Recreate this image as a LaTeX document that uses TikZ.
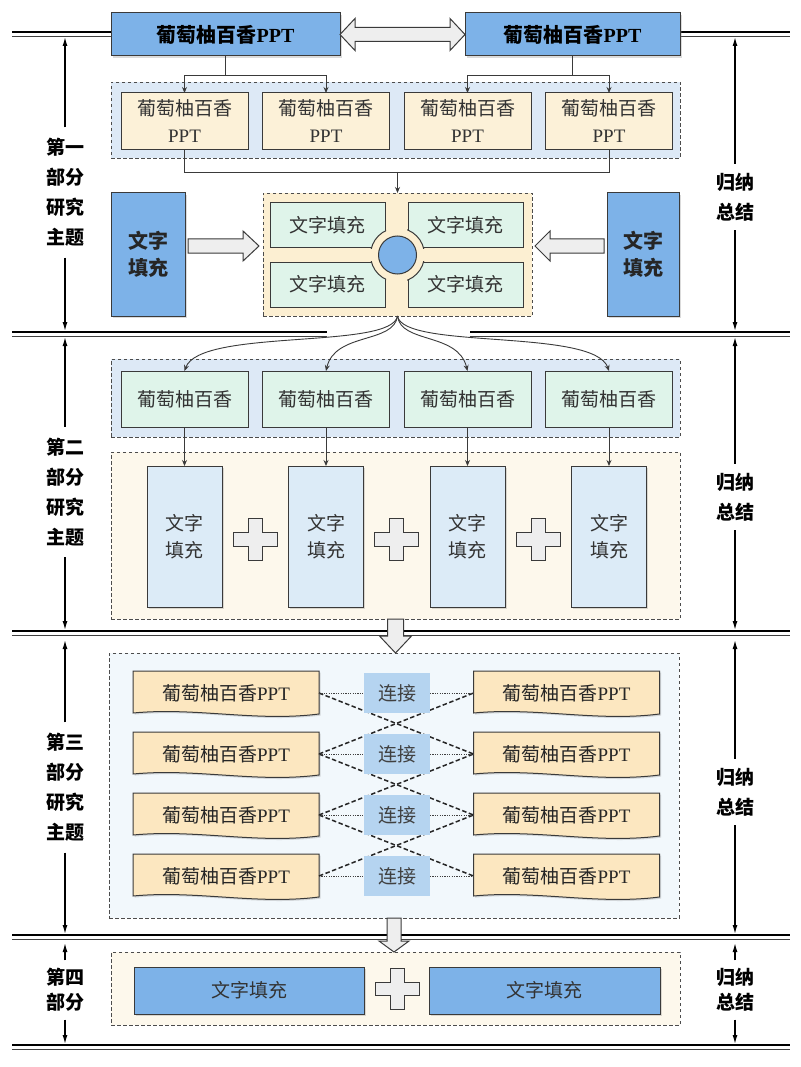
\documentclass[tikz,border=0pt]{standalone}
\usepackage{fontspec}
\setmainfont{Noto Sans CJK SC}
\newfontfamily\lat{Liberation Serif}
\usetikzlibrary{shadows,arrows.meta}
\definecolor{bdr}{HTML}{3A3A3A}
\definecolor{blueA}{HTML}{7DB2E8}
\definecolor{grpblue}{HTML}{DDE9F6}
\definecolor{creamA}{HTML}{FCF1D8}
\definecolor{hubcream}{HTML}{FCEFD2}
\definecolor{mint}{HTML}{DFF4EA}
\definecolor{creamB}{HTML}{FDF8EC}
\definecolor{paleblue}{HTML}{DCEBF7}
\definecolor{bgthree}{HTML}{F2F8FC}
\definecolor{tanfill}{HTML}{FCE7C0}
\definecolor{linkblue}{HTML}{B5D4F0}
\definecolor{greyfill}{HTML}{EEEEEE}
\definecolor{txt}{HTML}{333333}
\tikzset{plussign/.pic={\draw[blockarr] (-7,21) -- (7,21) -- (7,7) -- (22,7) -- (22,-7) -- (7,-7) -- (7,-21) -- (-7,-21) -- (-7,-7) -- (-22,-7) -- (-22,7) -- (-7,7) -- cycle;}}
\newcommand\docbox[3]{%
  \path[docshape] (#2-93,-#3) -- (#2+93,-#3) -- (#2+93,-#3-43) .. controls (#2+30,-#3-51) and (#2-30,-#3-36) .. (#2-93,-#3-42) -- cycle;
  \node[doctext] (#1) at (#2,-#3-22) {葡萄柚百香{\lat PPT}};}
\begin{document}
\begin{tikzpicture}[x=1pt,y=1pt,
  every node/.style={inner sep=0pt,outer sep=0pt,text=txt},
  shadowed/.style={drop shadow={opacity=0.28,shadow xshift=1.6pt,shadow yshift=-1.6pt}},
  bx/.style={draw=bdr,line width=1pt,align=center},
  topbox/.style={bx,shadowed,fill=blueA,minimum height=43,text=black,font=\fontsize{20}{24}\selectfont\bfseries},
  smallbox/.style={bx,fill=creamA,minimum width=127,minimum height=57,font=\fontsize{19}{27}\selectfont},
  grpdash/.style={draw=black!70,line width=0.9pt,dash pattern=on 3.5pt off 2.5pt},
  sidebox/.style={bx,shadowed,fill=blueA,minimum width=74,minimum height=123,text=black!85,font=\fontsize{20}{27}\selectfont\bfseries},
  greenbox/.style={bx,fill=mint,minimum width=115,minimum height=45,font=\fontsize{19}{24}\selectfont},
  gbox/.style={bx,fill=mint,minimum width=127,minimum height=56,font=\fontsize{19}{24}\selectfont},
  tallbox/.style={bx,shadowed,fill=paleblue,minimum width=75,minimum height=141,font=\fontsize{19}{27}\selectfont},
  docshape/.style={fill=tanfill,draw=bdr,line width=1pt,shadowed},
  doctext/.style={minimum width=186,minimum height=44,font=\fontsize{19}{24}\selectfont,text=black!85},
  linkbox/.style={fill=linkblue,minimum width=66,minimum height=40,font=\fontsize{19}{24}\selectfont,text=black!75},
  qbox/.style={bx,shadowed,fill=blueA,minimum height=47,font=\fontsize{19}{24}\selectfont},
  blockarr/.style={fill=greyfill,draw=bdr,line width=1pt,line join=miter},
  arr/.style={draw=bdr,line width=0.9pt,-{Stealth[length=6pt,width=5pt]}},
  conn/.style={draw=bdr,line width=0.9pt},
  sarr/.style={line width=1.3pt,-{Latex[length=9pt,width=5pt]}},
  sidelab/.style={align=center,text=black,font=\fontsize{19}{30}\selectfont\bfseries,inner ysep=11pt},
  rightlab/.style={align=center,text=black,font=\fontsize{19}{30}\selectfont\bfseries,inner ysep=9pt},
  shortlab/.style={align=center,text=black,font=\fontsize{19}{25}\selectfont\bfseries,inner ysep=8pt},
  sepa/.style={line width=1.8pt,black},
  sepb/.style={line width=0.8pt,black!75},
  crossdash/.style={draw=black!85,line width=1.5pt,dash pattern=on 4.5pt off 2.5pt},
  dotl/.style={draw=black!75,line width=0.9pt,dash pattern=on 1.2pt off 1.2pt}
]
\useasboundingbox (0,0) rectangle (800,-1067);
\fill[white] (0,0) rectangle (800,-1067);

% ---------- separator lines ----------
\draw[sepa] (12,-32) -- (111,-32);  \draw[sepb] (12,-36) -- (111,-36);
\draw[sepa] (680,-32) -- (790,-32); \draw[sepb] (680,-36) -- (790,-36);
\draw[sepa] (12,-332) -- (327,-332); \draw[sepb] (12,-336) -- (327,-336);
\draw[sepa] (470,-332) -- (790,-332); \draw[sepb] (470,-336) -- (790,-336);
\draw[sepa] (12,-631) -- (790,-631); \draw[sepb] (12,-635) -- (790,-635);
\draw[sepa] (12,-935) -- (790,-935); \draw[sepb] (12,-939) -- (790,-939);
\draw[sepa] (12,-1045) -- (790,-1045); \draw[sepb] (12,-1049) -- (790,-1049);

% ---------- section 1 ----------
\node[topbox,minimum width=229] (A) at (225.5,-34.5) {葡萄柚百香{\lat PPT}};
\node[topbox,minimum width=215] (B) at (572.5,-34.5) {葡萄柚百香{\lat PPT}};
\draw[blockarr] (A.east) -- ++(15,16) -- ++(0,-9) -- ++(95,0) -- ++(0,9) -- ++(15,-16) -- ++(-15,-16) -- ++(0,9) -- ++(-95,0) -- ++(0,-9) -- cycle;

\node[grpdash,fill=grpblue,minimum width=569,minimum height=76] (G1) at (395.5,-120) {};
\node[smallbox] (s1) at (184.5,-121.5) {葡萄柚百香\\{\lat PPT}};
\node[smallbox] (s2) at (326,-121.5) {葡萄柚百香\\{\lat PPT}};
\node[smallbox] (s3) at (467.5,-121.5) {葡萄柚百香\\{\lat PPT}};
\node[smallbox] (s4) at (609,-121.5) {葡萄柚百香\\{\lat PPT}};
\draw[arr] (A.south) -- ++(0,-19) -| (s1.north);
\draw[arr] (A.south) -- ++(0,-19) -| (s2.north);
\draw[arr] (B.south) -- ++(0,-19) -| (s3.north);
\draw[arr] (B.south) -- ++(0,-19) -| (s4.north);

\node[grpdash,fill=hubcream,minimum width=269,minimum height=123] (H) at (397.5,-254.5) {};
\coordinate (j1) at (397.5,-172);
\draw[conn] (s1.south) -- (s1.south |- j1) -- (s4.south |- j1) -- (s4.south);
\draw[arr] (j1) -- (H.north);

\coordinate (hubc) at (397.5,-255);
\node[greenbox] (h1) at (327.5,-225) {文字填充};
\node[greenbox] (h2) at (465.5,-225) {文字填充};
\node[greenbox] (h3) at (327.5,-284.5) {文字填充};
\node[greenbox] (h4) at (465.5,-284.5) {文字填充};
\foreach \h in {h1,h2,h3,h4}{
  \begin{scope}
    \clip ([shift={(-1,-1)}]\h.south west) rectangle ([shift={(1,1)}]\h.north east);
    \draw[fill=hubcream,draw=bdr,line width=1pt] (hubc) circle (27);
  \end{scope}
}
\node[circle,fill=blueA,draw=bdr,line width=1pt,minimum size=38] (hc) at (hubc) {};

\node[sidebox] (lb) at (148,-254.5) {文字\\填充};
\node[sidebox,minimum width=72] (rb) at (643,-254.5) {文字\\填充};
\draw[blockarr] (188,-239) -- (243,-239) -- (243,-231) -- (259,-246) -- (243,-261) -- (243,-253) -- (188,-253) -- cycle;
\draw[blockarr] (604,-239) -- (550,-239) -- (550,-231) -- (535,-246) -- (550,-261) -- (550,-253) -- (604,-253) -- cycle;

% ---------- section 2 ----------
\node[grpdash,fill=grpblue,minimum width=569,minimum height=78] (G2) at (395.5,-398) {};
\node[gbox] (g1) at (184.5,-399) {葡萄柚百香};
\node[gbox] (g2) at (326,-399) {葡萄柚百香};
\node[gbox] (g3) at (467.5,-399) {葡萄柚百香};
\node[gbox] (g4) at (609,-399) {葡萄柚百香};
\draw[arr] (H.south) .. controls (392,-350) and (200,-328) .. (g1.north);
\draw[arr] (H.south) .. controls (394,-344) and (335,-332) .. (g2.north);
\draw[arr] (H.south) .. controls (401,-344) and (458,-332) .. (g3.north);
\draw[arr] (H.south) .. controls (403,-350) and (594,-328) .. (g4.north);

\node[grpdash,fill=creamB,minimum width=569,minimum height=167] (D2) at (395.5,-535.5) {};
\node[tallbox] (t1) at (184.5,-536.5) {文字\\填充};
\node[tallbox] (t2) at (326,-536.5) {文字\\填充};
\node[tallbox] (t3) at (467.5,-536.5) {文字\\填充};
\node[tallbox] (t4) at (609,-536.5) {文字\\填充};
\draw[arr] (g1.south) -- (t1.north);
\draw[arr] (g2.south) -- (t2.north);
\draw[arr] (g3.south) -- (t3.north);
\draw[arr] (g4.south) -- (t4.north);
\pic at (255.25,-539) {plussign};
\pic at (396.75,-539) {plussign};
\pic at (538.25,-539) {plussign};

% ---------- section 3 ----------
\node[grpdash,fill=bgthree,minimum width=570,minimum height=265] (D3) at (394,-785.5) {};
\draw[blockarr] (D2.south) ++(-8,0) -- ++(16,0) -- ++(0,-17) -- ++(8,0) -- ++(-16,-17) -- ++(-16,17) -- ++(8,0) -- cycle;

\docbox{L1}{226}{671}
\docbox{L2}{226}{732}
\docbox{L3}{226}{793}
\docbox{L4}{226}{854}
\docbox{R1}{566.5}{671}
\docbox{R2}{566.5}{732}
\docbox{R3}{566.5}{793}
\docbox{R4}{566.5}{854}
\foreach \a/\b in {L1/R2,L2/R1,L2/R3,L3/R2,L3/R4,L4/R3}
  \draw[crossdash] (\a.east) -- (\b.west);
\node[linkbox] (C1) at (397,-693) {连接};
\node[linkbox] (C2) at (397,-754) {连接};
\node[linkbox] (C3) at (397,-815) {连接};
\node[linkbox] (C4) at (397,-876) {连接};
\foreach \k in {1,2,3,4}{
  \draw[dotl] (L\k.east) -- (C\k.west);
  \draw[dotl] (C\k.east) -- (R\k.west);
}

% ---------- section 4 ----------
\node[grpdash,fill=creamB,minimum width=569,minimum height=73] (D4) at (395.5,-988.5) {};
\draw[blockarr] (D3.south) ++(-7,0) -- ++(14,0) -- ++(0,-23) -- ++(8,0) -- ++(-15,-11) -- ++(-15,11) -- ++(8,0) -- cycle;
\node[qbox,minimum width=230] (q1) at (249,-990.5) {文字填充};
\node[qbox,minimum width=231] (q2) at (544.5,-990.5) {文字填充};
\pic[yscale=0.97] at (397,-989) {plussign};

% ---------- side labels ----------
\node[sidelab] (La) at (65,-192.5) {第一\\部分\\研究\\主题};
\node[rightlab] (Ra) at (735,-197) {归纳\\总结};
\node[sidelab] (Lb) at (65,-492) {第二\\部分\\研究\\主题};
\node[rightlab] (Rb) at (735,-497) {归纳\\总结};
\node[sidelab] (Lc) at (65,-787.5) {第三\\部分\\研究\\主题};
\node[rightlab] (Rc) at (735,-792) {归纳\\总结};
\node[shortlab] (Ld) at (65,-990) {第四\\部分};
\node[shortlab] (Rd) at (735,-990) {归纳\\总结};

\coordinate (la1) at (65,-37);  \coordinate (la2) at (65,-331);
\coordinate (ra1) at (735,-37); \coordinate (ra2) at (735,-331);
\coordinate (lb1) at (65,-337); \coordinate (lb2) at (65,-630);
\coordinate (rb1) at (735,-337); \coordinate (rb2) at (735,-630);
\coordinate (lc1) at (65,-640); \coordinate (lc2) at (65,-934);
\coordinate (rc1) at (735,-640); \coordinate (rc2) at (735,-934);
\coordinate (ld1) at (65,-943); \coordinate (ld2) at (65,-1044);
\coordinate (rd1) at (735,-943); \coordinate (rd2) at (735,-1044);
\foreach \n/\p in {La/la,Ra/ra,Lb/lb,Rb/rb,Lc/lc,Rc/rc,Ld/ld,Rd/rd}{
  \draw[sarr] (\n.north) -- (\p1);
  \draw[sarr] (\n.south) -- (\p2);
}
\end{tikzpicture}
\end{document}
